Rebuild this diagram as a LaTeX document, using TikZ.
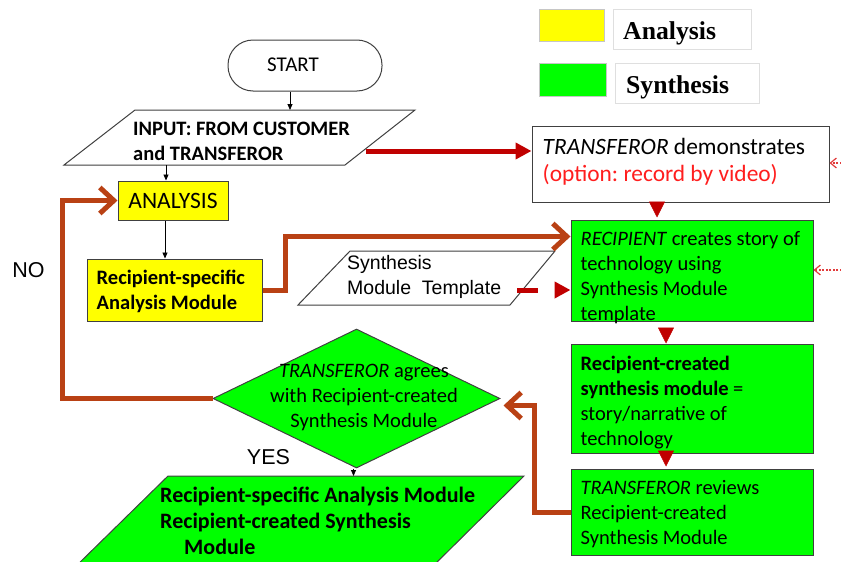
\documentclass[tikz,border=0pt]{standalone}
\usepackage{fontspec}
\setmainfont{Carlito}
\newfontfamily\arialf{Liberation Sans}
\newfontfamily\timesf{Liberation Serif}
\usetikzlibrary{arrows.meta,calc,shapes.geometric}
\definecolor{brn}{RGB}{185,65,20}
\definecolor{dred}{RGB}{192,0,0}
\definecolor{lred}{RGB}{225,60,60}
\definecolor{bord}{RGB}{64,64,64}
\definecolor{ylw}{RGB}{255,255,0}
\definecolor{grn}{RGB}{0,255,0}
\definecolor{txtred}{RGB}{255,30,30}
\frenchspacing
\begin{document}
\begin{tikzpicture}[x=1pt,y=-1pt,
  boxs/.style={draw=bord, line width=1pt, rectangle, inner sep=0pt},
  txt/.style={inner sep=0pt, align=left, font=\fontsize{20.5}{25}\selectfont},
  txtc/.style={inner sep=0pt, align=center, font=\fontsize{20.5}{25}\selectfont},
  arl/.style={inner sep=0pt, align=left, font=\arialf\fontsize{19.5}{25}\selectfont},
  lbl/.style={inner sep=0pt, font=\arialf\fontsize{21.5}{25}\selectfont},
  leg/.style={inner sep=0pt, anchor=base west, font=\timesf\bfseries\fontsize{25.7}{30}\selectfont},
  thinarr/.style={draw=black, line width=0.8pt, -{Triangle[length=6pt,width=5pt]}},
  redthick/.style={draw=dred, line width=5pt, -{Triangle[length=16pt,width=16pt]}},
  redtri/.style={draw=dred, line width=0.5pt, -{Triangle[length=16pt,width=16pt]}},
  reddash/.style={draw=dred, line width=5pt, dash pattern=on 21pt off 20pt, -{Triangle[length=16pt,width=16pt]}},
  brnarr/.style={draw=brn, line width=5pt, -{Straight Barb[length=14pt,width=26pt]}},
  dotarr/.style={draw=lred, line width=1.2pt, dash pattern=on 2pt off 1.5pt, -{Straight Barb[length=6pt,width=10pt]}}
]
\useasboundingbox (0,0) rectangle (841,562);
\clip (0,0) rectangle (841,562);

% legend
\node[boxs, draw=gray!45, fill=ylw, minimum width=65pt, minimum height=32pt] (legY) at (571.5,25) {};
\node[boxs, draw=gray!25, line width=0.8pt, fill=white, minimum width=138pt, minimum height=40pt] (legAbox) at (682,29) {};
\node[leg] (legA) at (623,39) {Analysis};
\node[boxs, draw=gray!45, fill=grn, minimum width=67pt, minimum height=33pt] (legG) at (572.5,79.5) {};
\node[boxs, draw=gray!25, line width=0.8pt, fill=white, minimum width=144pt, minimum height=40pt] (legSbox) at (687,83) {};
\node[leg] (legS) at (626,93) {Synthesis};

% start
\node[boxs, fill=white, minimum width=154pt, minimum height=51pt, rounded corners=25pt] (start) at (305,65.5) {};
\node[txtc, font=\fontsize{21}{25}\selectfont] (startT) at (293,65) {START};

% input parallelogram
\coordinate (inTL) at (135,110);
\coordinate (inTR) at (415,110);
\coordinate (inBR) at (345,165);
\coordinate (inBL) at (64,165);
\coordinate (inB) at (166,165);
\coordinate (inR) at (366,151);
\draw[draw=bord, line width=1pt, fill=white] (inTL) -- (inTR) -- (inBR) -- (inBL) -- cycle;
\node[txt, anchor=west] (inT) at (133,141) {\textbf{INPUT: FROM CUSTOMER}\\\textbf{and TRANSFEROR}};

% analysis
\node[boxs, fill=ylw, minimum width=110pt, minimum height=39pt, font=\fontsize{23.5}{26}\selectfont] (ana) at (173,200.5) {ANALYSIS};
\node[boxs, fill=ylw, minimum width=175pt, minimum height=62pt] (ras) at (174.5,290) {};
\node[txt, anchor=west] (rasT) at ($(ras.west)+(10,1.5)$) {\textbf{Recipient-specific}\\\textbf{Analysis Module}};

% demonstrates
\node[boxs, fill=white, minimum width=297pt, minimum height=76pt] (dem) at (680.5,164) {};
\node[txt, anchor=west, font=\fontsize{23.4}{27}\selectfont] (demT) at ($(dem.west)+(11,-2)$) {\textit{TRANSFEROR} demonstrates\\\textcolor{txtred}{(option: record by video)}};

% recipient creates
\node[boxs, fill=grn, minimum width=242pt, minimum height=101pt] (rec) at (692,270.5) {};
\node[txt, anchor=west] (recT) at ($(rec.west)+(10,7)$) {\textit{RECIPIENT} creates story of\\technology using\\Synthesis Module\\template};

% template parallelogram
\coordinate (tTL) at (350,251);
\coordinate (tTR) at (555,251);
\coordinate (tBR) at (510,305);
\coordinate (tBL) at (298,305);
\coordinate (tplR) at (517,290);
\draw[draw=bord, line width=1pt, fill=white] (tTL) -- (tTR) -- (tBR) -- (tBL) -- cycle;
\node[arl, anchor=west] (tplT) at (347,276.5) {Synthesis\\Module\ \ Template};

% recipient-created module
\node[boxs, fill=grn, minimum width=242pt, minimum height=109pt] (rcs) at (692,398.5) {};
\node[txt, anchor=west] (rcsT) at ($(rcs.west)+(10,4)$) {\textbf{Recipient-created}\\\textbf{synthesis module} =\\story/narrative of\\technology};

% reviews
\node[boxs, fill=grn, minimum width=242pt, minimum height=86pt] (rev) at (692,512) {};
\node[txt, anchor=west] (revT) at ($(rev.west)+(10,2)$) {\textit{TRANSFEROR} reviews\\Recipient-created\\Synthesis Module};

% diamond
\node[diamond, draw=bord, line width=1pt, fill=grn, minimum width=287pt, minimum height=139pt, inner sep=0pt] (dia) at (356.5,398.5) {};
\node[txtc] (diaT) at (364,397) {\textit{TRANSFEROR} agrees\\with Recipient-created\\Synthesis Module};
\coordinate (diaR) at ($(dia.east)+(3,7)$);

% output parallelogram
\coordinate (oTL) at (168,476);
\coordinate (oTR) at (524,476);
\coordinate (oBR) at (427,572);
\coordinate (oBL) at (70,572);
\draw[draw=bord, line width=1pt, fill=grn] (oTL) -- (oTR) -- (oBR) -- (oBL) -- cycle;
\node[txt, anchor=west, font=\fontsize{22}{26}\selectfont] (oT) at (160,521) {\textbf{Recipient-specific Analysis Module}\\\textbf{Recipient-created Synthesis}\\\hspace*{24pt}\textbf{Module}};

% labels
\node[lbl] (no) at (28.5,270) {NO};
\node[lbl] (yes) at (268.5,457) {YES};

% connectors
\draw[thinarr] ([xshift=-15pt]start.south) -- ([xshift=-15pt]start.south |- inTL);
\draw[thinarr] (inB) -- (inB |- ana.north);
\draw[thinarr] ([xshift=-8pt]ana.south) -- ([xshift=-8pt]ana.south |- ras.north);
\draw[thinarr] ([xshift=-3pt]dia.south) -- ([xshift=-3pt]dia.south |- oTL);
\draw[redthick] (inR) -- (inR -| dem.west);
\draw[redtri, shorten >=2pt] ([xshift=-23.5pt]dem.south) -- ([xshift=-35pt]rec.north);
\draw[redtri, shorten <=7pt] ([xshift=-26pt]rec.south) -- ([xshift=-26pt]rcs.north);
\draw[redtri, shorten >=2pt] ([xshift=-26pt]rcs.south) -- ([xshift=-26pt]rev.north);
\draw[reddash] (tplR) -- (tplR -| rec.west);
\draw[brnarr] (ras.east) -- ++(23,0) |- ($(rec.north west)+(0,17)$);
\draw[brnarr] (dia.west) -- ++(-150,0) |- (ana.west);
\draw[brnarr] (rev.west) -- ++(-36,0) |- (diaR);
\coordinate (dotA) at (845,163);
\coordinate (dotB) at (845,270);
\draw[dotarr] (dotA) -- (dotA -| dem.east);
\draw[dotarr] (dotB) -- (dotB -| rec.east);
\end{tikzpicture}
\end{document}
